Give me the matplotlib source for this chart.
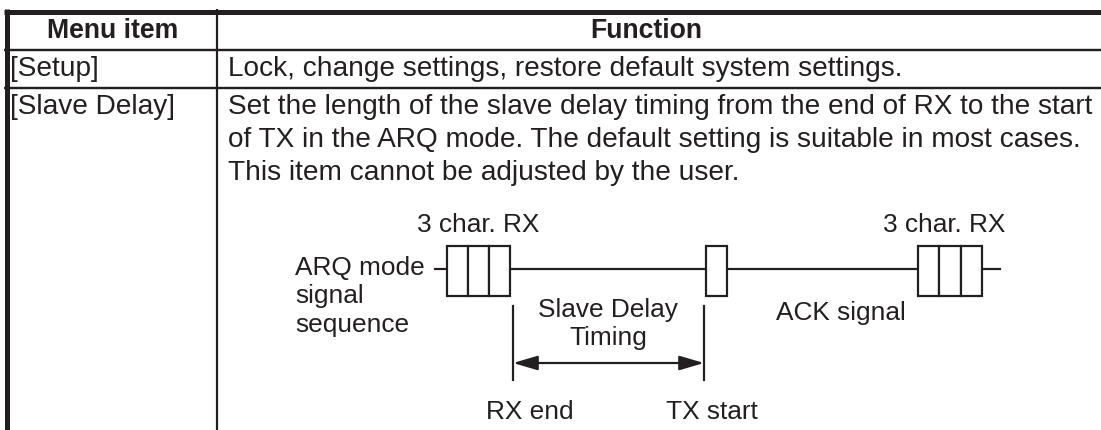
import matplotlib
matplotlib.use("Agg")
import matplotlib.pyplot as plt
from matplotlib.patches import Rectangle, FancyArrowPatch

plt.rcParams['font.family'] = ['Liberation Sans', 'DejaVu Sans']

# ---- data ----
headers = ["Menu item", "Function"]
menu_items = ["[Setup]", "[Slave Delay]"]
setup_text = ["Lock, change settings, restore default system settings."]
slave_text = [
    "Set the length of the slave delay timing from the end of RX to the start",
    "of TX in the ARQ mode. The default setting is suitable in most cases.",
    "This item cannot be adjusted by the user.",
]
diagram_left_label = ["ARQ mode", "signal", "sequence"]
rx_label = "3 char. RX"
delay_label = ["Slave Delay", "Timing"]
ack_label = "ACK signal"
marker_labels = ["RX end", "TX start"]

W, H = 1101, 430
fig = plt.figure(figsize=(W / 100, H / 100), dpi=100)
ax = fig.add_axes([0, 0, 1, 1])
ax.set_xlim(0, W)
ax.set_ylim(H, 0)
ax.axis('off')

ink = '#231f20'
fs = 20.2
fs_head = 19.2
fs_d = 18.9
px = 0.72  # points per pixel

# ---- table grid ----
ax.plot([4, W], [11.5, 11.5], color=ink, lw=5 * px, solid_capstyle='butt')
ax.plot([6.5, 6.5], [9, H], color=ink, lw=5 * px, solid_capstyle='butt')
ax.plot([217, 217], [9, H], color=ink, lw=2.2 * px, solid_capstyle='butt')
for y in [50, 88]:
    ax.plot([4, W], [y, y], color=ink, lw=2.4 * px, solid_capstyle='butt')

# ---- header ----
ax.text(113, 31, headers[0], ha='center', va='center', fontsize=fs_head, fontweight='bold', color=ink)
ax.text(646, 31, headers[1], ha='center', va='center', fontsize=fs_head, fontweight='bold', color=ink)

# ---- rows ----
ax.text(10, 69, menu_items[0], ha='left', va='center', fontsize=fs, color=ink)
ax.text(228, 69, setup_text[0], ha='left', va='center', fontsize=fs, color=ink)
ax.text(10, 107, menu_items[1], ha='left', va='center', fontsize=fs, color=ink)
for i, line in enumerate(slave_text):
    ax.text(228, 107 + 33 * i, line, ha='left', va='center', fontsize=fs, color=ink)

# ---- diagram ----
lw = 2.2 * px
sig_y = 269
box_top, box_bot = 246, 296

# signal line
ax.plot([435, 1000], [sig_y, sig_y], color=ink, lw=lw, zorder=1)

def char_boxes(x0, widths):
    x = x0
    for w in widths:
        ax.add_patch(Rectangle((x, box_top), w, box_bot - box_top, facecolor='white',
                               edgecolor=ink, lw=lw, zorder=2))
        x += w

char_boxes(447, [21, 21, 21])
char_boxes(706, [21])
char_boxes(918, [21, 22, 21])

ax.text(478, 225, rx_label, ha='center', va='center', fontsize=fs_d, color=ink)
ax.text(944, 225, rx_label, ha='center', va='center', fontsize=fs_d, color=ink)

for i, t in enumerate(diagram_left_label):
    ax.text(295, 268 + 28.5 * i, t, ha='left', va='center', fontsize=fs_d, color=ink)

# vertical markers
for x in [513, 704]:
    ax.plot([x, x], [306, 380], color=ink, lw=lw)

ax.add_patch(FancyArrowPatch((513, 363), (704, 363), arrowstyle='<|-|>,head_length=7.5,head_width=2.2',
                             color=ink, lw=lw, mutation_scale=2, shrinkA=0, shrinkB=0))

ax.text(608, 310, delay_label[0], ha='center', va='center', fontsize=fs_d, color=ink)
ax.text(608, 338, delay_label[1], ha='center', va='center', fontsize=fs_d, color=ink)
ax.text(841, 313, ack_label, ha='center', va='center', fontsize=fs_d, color=ink)
ax.text(530, 412, marker_labels[0], ha='center', va='center', fontsize=fs_d, color=ink)
ax.text(712, 412, marker_labels[1], ha='center', va='center', fontsize=fs_d, color=ink)

fig.savefig('out.png', dpi=100)
